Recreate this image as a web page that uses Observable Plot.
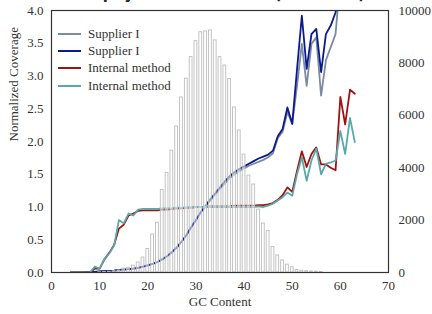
<!DOCTYPE html>
<html><head><meta charset="utf-8">
<script src="https://cdn.jsdelivr.net/npm/d3@7"></script>
<script src="https://cdn.jsdelivr.net/npm/@observablehq/plot@0.6"></script>
<style>
body{margin:0;background:#fff;overflow:hidden;}
#wrap{position:relative;width:432px;height:314px;overflow:hidden;}
#title{position:absolute;top:-15px;left:0;width:440px;text-align:center;font-weight:bold;font-size:15px;font-family:"DejaVu Sans",sans-serif;color:#222;}
#legend{position:absolute;left:58px;top:25px;font-family:"Liberation Serif",serif;font-size:13px;color:#333;}
#legend .row{height:17.3px;display:flex;align-items:center;}
#legend .sw{width:23px;height:2px;margin-right:7px;}
</style></head><body><div id="wrap"><div id="title">Staphylococcus aureus (GC ~33%)</div><div id="chart"></div><div id="legend"></div></div>
<script>
const gc = [4,5,6,7,8,9,10,11,12,13,14,15,16,17,18,19,20,21,22,23,24,25,26,27,28,29,30,31,32,33,34,35,36,37,38,39,40,41,42,43,44,45,46,47,48,49,50,51,52,53,54,55,56,57,58,59,60,61,62,63];
const supplierGray = [0,0,0,0.005,0.01,0.01,0.015,0.02,0.025,0.03,0.04,0.045,0.05,0.06,0.07,0.09,0.11,0.13,0.16,0.2,0.25,0.31,0.38,0.47,0.57,0.69,0.8,0.92,1.01,1.1,1.19,1.28,1.36,1.44,1.5,1.55,1.59,1.63,1.66,1.69,1.72,1.76,1.82,2.05,2.15,2.45,2.27,2.85,3.49,2.85,3.49,3.59,2.7,3.24,3.44,3.64,4.5,null,null,null];
const supplierNavy = [0,0,0,0.005,0.01,0.01,0.015,0.02,0.025,0.03,0.04,0.045,0.05,0.06,0.07,0.09,0.11,0.13,0.16,0.2,0.25,0.31,0.38,0.47,0.57,0.69,0.8,0.92,1.02,1.12,1.21,1.3,1.39,1.47,1.53,1.58,1.62,1.66,1.7,1.74,1.77,1.8,1.86,2.08,2.19,2.52,2.27,3.1,3.92,3.11,3.64,3.72,3.06,3.64,3.77,3.97,4.5,null,null,null];
const internalRed = [0,0,0,0,0,0.06,0.06,0.2,0.3,0.42,0.67,0.73,0.87,0.9,0.94,0.95,0.95,0.95,0.95,0.96,0.96,0.97,0.98,0.98,0.99,0.99,1.0,1.0,1.0,1.01,1.01,1.01,1.01,1.01,1.02,1.02,1.02,1.02,1.02,1.03,1.03,1.04,1.06,1.11,1.18,1.3,1.23,1.55,1.85,1.61,1.81,1.91,1.65,1.65,1.6,1.56,2.68,2.26,2.79,2.73];
const internalTeal = [0,0,0,0,0,0.09,0.06,0.21,0.29,0.41,0.8,0.75,0.9,0.87,0.96,0.97,0.97,0.97,0.97,0.98,0.98,0.98,0.99,0.99,0.99,0.99,1.0,1.0,1.0,1.0,1.0,1.0,1.0,1.0,1.0,1.0,1.0,1.0,1.0,1.01,1.0,1.02,1.05,1.1,1.15,1.22,1.17,1.5,1.76,1.4,1.71,1.89,1.5,1.66,1.68,1.71,2.16,1.81,2.36,1.99];
const histBins = [10,11,12,13,14,15,16,17,18,19,20,21,22,23,24,25,26,27,28,29,30,31,32,33,34,35,36,37,38,39,40,41,42,43,44,45,46,47,48,49,50,51,52,53,54,55,56];
const histCounts = [10,20,30,50,80,150,180,260,380,570,900,1450,1900,3150,3800,4650,5570,6680,7400,8220,8830,9170,9200,9240,8860,8220,7900,7380,6300,5420,4500,3700,3360,2400,1870,1580,970,650,460,300,200,100,70,50,40,30,20];
const leftTicks = [0,0.5,1,1.5,2,2.5,3,3.5,4];
const rightTicks = [0,2000,4000,6000,8000,10000];
const xTicks = [0,10,20,30,40,50,60,70];
const seriesNames = ["Supplier I","Supplier I","Internal method","Internal method"];
const seriesColors = ["#7b8ba0","#0b1a8e","#a01212","#5aa9a9"];
const seriesValues = [supplierGray, supplierNavy, internalRed, internalTeal];

const RATIO = 4/10000;
const hist = histBins.map((k,i)=>({k, c: histCounts[i]}));
const lineMarks = seriesValues.map((arr,i)=>Plot.line(gc.map((g,j)=>({gc:g, v:arr[j]})), {
  x:"gc", y:"v", stroke: seriesColors[i], strokeWidth: 1.8, clip: true, defined: d=>d.v!=null
}));

const chart = Plot.plot({
  width: 432, height: 314,
  marginLeft: 51, marginRight: 44, marginTop: 10, marginBottom: 42,
  style: {fontFamily: "Liberation Serif, serif", fontSize: "13px", color: "#333", background: "white"},
  x: {domain: [0,70]},
  y: {domain: [0,4]},
  marks: [
    ...lineMarks,
    Plot.rectY(hist, {x1: d=>d.k-0.5, x2: d=>d.k+0.5, y: d=>d.c*RATIO, fill: "white", fillOpacity: 0.55, stroke: "#bdbdbd", strokeWidth: 0.9, insetLeft: 1, insetRight: 1}),
    Plot.frame({stroke: "#333", strokeWidth: 1.2}),
    Plot.axisX(xTicks, {tickSize: 0, tickPadding: 8, label: null}),
    Plot.axisY(leftTicks, {anchor: "left", tickSize: 0, tickPadding: 8, tickFormat: d3.format(".1f"), label: null}),
    Plot.axisY(rightTicks.map(v=>v*RATIO), {anchor: "right", tickSize: 0, tickPadding: 10, tickFormat: d=>String(Math.round(d/RATIO)), label: null}),
    Plot.text(["GC Content"], {frameAnchor: "bottom", dy: 33, fontSize: 13, fill: "#333"}),
    Plot.text(["Normalized Coverage"], {frameAnchor: "left", rotate: -90, dx: -38, fontSize: 13, fill: "#333"}),
    Plot.text(["Frequency"], {frameAnchor: "right", rotate: -90, dx: 51, fontSize: 13, fill: "#333"})
  ]
});
document.getElementById("chart").appendChild(chart);

const leg = document.getElementById("legend");
seriesNames.forEach((n,i)=>{
  const r = document.createElement("div"); r.className="row";
  const s = document.createElement("div"); s.className="sw"; s.style.background = seriesColors[i];
  const t = document.createElement("span"); t.textContent = n;
  r.appendChild(s); r.appendChild(t); leg.appendChild(r);
});
</script>
</body></html>
